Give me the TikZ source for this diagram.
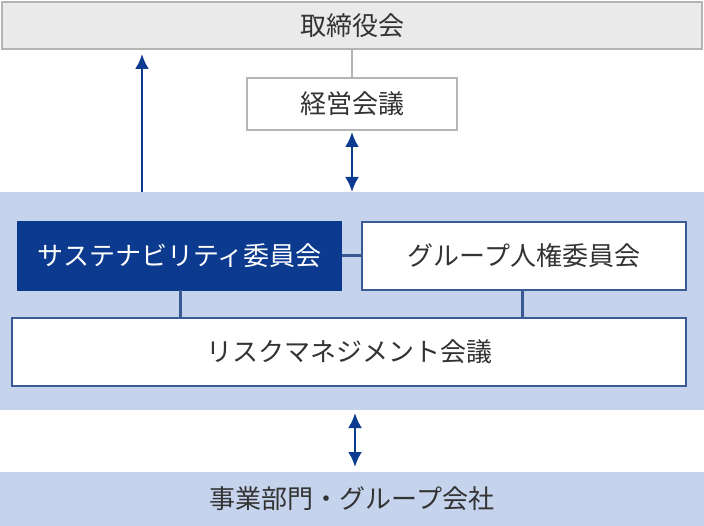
\documentclass[tikz,border=0pt]{standalone}
\usepackage{fontspec}
\setmainfont{Noto Sans CJK JP}
\usetikzlibrary{arrows.meta}
\definecolor{dblue}{HTML}{0B3A8F}
\definecolor{panel}{HTML}{C5D3EC}
\definecolor{lgray}{HTML}{EAEAEA}
\definecolor{bgray}{HTML}{B4B4B4}
\definecolor{tgray}{HTML}{333333}
\definecolor{bline}{HTML}{3A5A96}
\begin{document}
\begin{tikzpicture}[x=1pt,y=-1pt,
  txt/.style={font=\fontsize{26}{30}\selectfont,text=tgray},
  gbox/.style={draw=bgray,line width=1.5pt,txt},
  wbox/.style={draw=bline,fill=white,line width=1.5pt,txt},
  conn/.style={draw=bline,line width=3pt},
  arr/.style={draw=dblue,line width=2.5pt,-{Latex[length=15pt,width=14pt]}},
  darr/.style={draw=dblue,line width=2.5pt,{Latex[length=15pt,width=14pt]}-{Latex[length=15pt,width=14pt]}}]
\useasboundingbox (0,0) rectangle (704,526);
\fill[panel] (0,192) rectangle (704,410);
\node[gbox,fill=lgray,minimum width=700,minimum height=47,inner sep=0] (board) at (352,25.5) {取締役会};
\node[gbox,fill=white,minimum width=210,minimum height=52,inner sep=0] (mgmt) at (352,104) {経営会議};
\draw[bgray,line width=1.5pt] (board.south) -- (mgmt.north);
\node[draw=dblue,fill=dblue,line width=1.5pt,font=\fontsize{26}{30}\selectfont,text=white,minimum width=323,minimum height=68,inner sep=0] (sus) at (179.5,256) {サステナビリティ委員会};
\node[wbox,minimum width=324,minimum height=68,inner sep=0] (hr) at (524,256) {グループ人権委員会};
\node[wbox,minimum width=674,minimum height=68,inner sep=0] (risk) at (349,352) {リスクマネジメント会議};
\coordinate (p1) at (180,290); \coordinate (p2) at (180,318);
\coordinate (q1) at (522,290); \coordinate (q2) at (522,318);
\draw[conn] (sus.east) -- (hr.west);
\draw[conn] (p1) -- (p2);
\draw[conn] (q1) -- (q2);
\node[fill=panel,minimum width=704,minimum height=54,inner sep=0,txt] (biz) at (352,499) {事業部門・グループ会社};
\coordinate (u0) at (142,192); \coordinate (u1) at (142,54);
\draw[arr] (u0) -- (u1);
\coordinate (m1) at (352,132); \coordinate (m2) at (352,192);
\draw[darr] (m1) -- (m2);
\coordinate (b1) at (355,413); \coordinate (b2) at (355,467);
\draw[darr] (b1) -- (b2);
\end{tikzpicture}
\end{document}
